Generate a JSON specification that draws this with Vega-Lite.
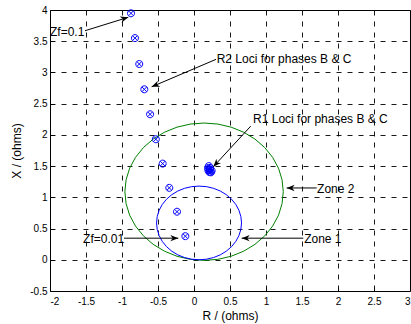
{
  "$schema": "https://vega.github.io/schema/vega-lite/v6.json",
  "width": 360,
  "height": 281,
  "autosize": {"type": "none"},
  "padding": {"left": 50, "top": 10, "right": 1, "bottom": 33},
  "config": {
    "font": "Liberation Sans",
    "view": {"stroke": "#000", "strokeWidth": 1},
    "axis": {
      "domain": false,
      "grid": true,
      "gridColor": "#000",
      "gridDash": [5, 6],
      "gridWidth": 0.9,
      "gridOpacity": 1,
      "ticks": true,
      "tickSize": -4,
      "tickColor": "#000",
      "tickCount": 20,
      "labelOverlap": false,
      "labelFontSize": 10,
      "labelColor": "#000",
      "titleFontSize": 12,
      "titleFontWeight": "normal",
      "titleColor": "#000",
      "labelFont": "Liberation Sans",
      "titleFont": "Liberation Sans"
    }
  },
  "datasets": {
    "circles": [
      {"zone": "Zone 2", "i": 0, "R": 1.24, "X": 1.09},
      {"zone": "Zone 2", "i": 1, "R": 1.2233, "X": 1.281},
      {"zone": "Zone 2", "i": 2, "R": 1.1737, "X": 1.4662},
      {"zone": "Zone 2", "i": 3, "R": 1.0926, "X": 1.64},
      {"zone": "Zone 2", "i": 4, "R": 0.9826, "X": 1.7971},
      {"zone": "Zone 2", "i": 5, "R": 0.8471, "X": 1.9326},
      {"zone": "Zone 2", "i": 6, "R": 0.69, "X": 2.0426},
      {"zone": "Zone 2", "i": 7, "R": 0.5162, "X": 2.1237},
      {"zone": "Zone 2", "i": 8, "R": 0.331, "X": 2.1733},
      {"zone": "Zone 2", "i": 9, "R": 0.14, "X": 2.19},
      {"zone": "Zone 2", "i": 10, "R": -0.051, "X": 2.1733},
      {"zone": "Zone 2", "i": 11, "R": -0.2362, "X": 2.1237},
      {"zone": "Zone 2", "i": 12, "R": -0.41, "X": 2.0426},
      {"zone": "Zone 2", "i": 13, "R": -0.5671, "X": 1.9326},
      {"zone": "Zone 2", "i": 14, "R": -0.7026, "X": 1.7971},
      {"zone": "Zone 2", "i": 15, "R": -0.8126, "X": 1.64},
      {"zone": "Zone 2", "i": 16, "R": -0.8937, "X": 1.4662},
      {"zone": "Zone 2", "i": 17, "R": -0.9433, "X": 1.281},
      {"zone": "Zone 2", "i": 18, "R": -0.96, "X": 1.09},
      {"zone": "Zone 2", "i": 19, "R": -0.9433, "X": 0.899},
      {"zone": "Zone 2", "i": 20, "R": -0.8937, "X": 0.7138},
      {"zone": "Zone 2", "i": 21, "R": -0.8126, "X": 0.54},
      {"zone": "Zone 2", "i": 22, "R": -0.7026, "X": 0.3829},
      {"zone": "Zone 2", "i": 23, "R": -0.5671, "X": 0.2474},
      {"zone": "Zone 2", "i": 24, "R": -0.41, "X": 0.1374},
      {"zone": "Zone 2", "i": 25, "R": -0.2362, "X": 0.0563},
      {"zone": "Zone 2", "i": 26, "R": -0.051, "X": 0.0067},
      {"zone": "Zone 2", "i": 27, "R": 0.14, "X": -0.01},
      {"zone": "Zone 2", "i": 28, "R": 0.331, "X": 0.0067},
      {"zone": "Zone 2", "i": 29, "R": 0.5162, "X": 0.0563},
      {"zone": "Zone 2", "i": 30, "R": 0.69, "X": 0.1374},
      {"zone": "Zone 2", "i": 31, "R": 0.8471, "X": 0.2474},
      {"zone": "Zone 2", "i": 32, "R": 0.9826, "X": 0.3829},
      {"zone": "Zone 2", "i": 33, "R": 1.0926, "X": 0.54},
      {"zone": "Zone 2", "i": 34, "R": 1.1737, "X": 0.7138},
      {"zone": "Zone 2", "i": 35, "R": 1.2233, "X": 0.899},
      {"zone": "Zone 2", "i": 36, "R": 1.24, "X": 1.09},
      {"zone": "Zone 1", "i": 0, "R": 0.66, "X": 0.59},
      {"zone": "Zone 1", "i": 1, "R": 0.651, "X": 0.6925},
      {"zone": "Zone 1", "i": 2, "R": 0.6244, "X": 0.7918},
      {"zone": "Zone 1", "i": 3, "R": 0.581, "X": 0.885},
      {"zone": "Zone 1", "i": 4, "R": 0.522, "X": 0.9692},
      {"zone": "Zone 1", "i": 5, "R": 0.4492, "X": 1.042},
      {"zone": "Zone 1", "i": 6, "R": 0.365, "X": 1.101},
      {"zone": "Zone 1", "i": 7, "R": 0.2718, "X": 1.1444},
      {"zone": "Zone 1", "i": 8, "R": 0.1725, "X": 1.171},
      {"zone": "Zone 1", "i": 9, "R": 0.07, "X": 1.18},
      {"zone": "Zone 1", "i": 10, "R": -0.0325, "X": 1.171},
      {"zone": "Zone 1", "i": 11, "R": -0.1318, "X": 1.1444},
      {"zone": "Zone 1", "i": 12, "R": -0.225, "X": 1.101},
      {"zone": "Zone 1", "i": 13, "R": -0.3092, "X": 1.042},
      {"zone": "Zone 1", "i": 14, "R": -0.382, "X": 0.9692},
      {"zone": "Zone 1", "i": 15, "R": -0.441, "X": 0.885},
      {"zone": "Zone 1", "i": 16, "R": -0.4844, "X": 0.7918},
      {"zone": "Zone 1", "i": 17, "R": -0.511, "X": 0.6925},
      {"zone": "Zone 1", "i": 18, "R": -0.52, "X": 0.59},
      {"zone": "Zone 1", "i": 19, "R": -0.511, "X": 0.4875},
      {"zone": "Zone 1", "i": 20, "R": -0.4844, "X": 0.3882},
      {"zone": "Zone 1", "i": 21, "R": -0.441, "X": 0.295},
      {"zone": "Zone 1", "i": 22, "R": -0.382, "X": 0.2108},
      {"zone": "Zone 1", "i": 23, "R": -0.3092, "X": 0.138},
      {"zone": "Zone 1", "i": 24, "R": -0.225, "X": 0.079},
      {"zone": "Zone 1", "i": 25, "R": -0.1318, "X": 0.0356},
      {"zone": "Zone 1", "i": 26, "R": -0.0325, "X": 0.009},
      {"zone": "Zone 1", "i": 27, "R": 0.07, "X": 0},
      {"zone": "Zone 1", "i": 28, "R": 0.1725, "X": 0.009},
      {"zone": "Zone 1", "i": 29, "R": 0.2718, "X": 0.0356},
      {"zone": "Zone 1", "i": 30, "R": 0.365, "X": 0.079},
      {"zone": "Zone 1", "i": 31, "R": 0.4492, "X": 0.138},
      {"zone": "Zone 1", "i": 32, "R": 0.522, "X": 0.2108},
      {"zone": "Zone 1", "i": 33, "R": 0.581, "X": 0.295},
      {"zone": "Zone 1", "i": 34, "R": 0.6244, "X": 0.3882},
      {"zone": "Zone 1", "i": 35, "R": 0.651, "X": 0.4875},
      {"zone": "Zone 1", "i": 36, "R": 0.66, "X": 0.59}
    ],
    "loci": [
      {"series": "R2", "R": -0.875, "X": 3.947},
      {"series": "R2", "R": -0.82, "X": 3.55},
      {"series": "R2", "R": -0.76, "X": 3.135},
      {"series": "R2", "R": -0.69, "X": 2.73},
      {"series": "R2", "R": -0.61, "X": 2.33},
      {"series": "R2", "R": -0.53, "X": 1.93},
      {"series": "R2", "R": -0.435, "X": 1.54},
      {"series": "R2", "R": -0.343, "X": 1.152},
      {"series": "R2", "R": -0.236, "X": 0.77},
      {"series": "R2", "R": -0.12, "X": 0.378},
      {"series": "R1", "R": 0.205, "X": 1.5},
      {"series": "R1", "R": 0.195, "X": 1.465},
      {"series": "R1", "R": 0.2, "X": 1.43},
      {"series": "R1", "R": 0.215, "X": 1.405},
      {"series": "R1", "R": 0.235, "X": 1.4},
      {"series": "R1", "R": 0.245, "X": 1.425},
      {"series": "R1", "R": 0.225, "X": 1.47},
      {"series": "R1", "R": 0.22, "X": 1.44}
    ],
    "arrows": [
      {"a": "Zf=0.1", "x": -1.514, "y": 3.668, "x2": -0.9125, "y2": 3.883, "ang": -17},
      {"a": "R2", "x": 0.306, "y": 3.21, "x2": -0.588, "y2": 2.77, "ang": 157},
      {"a": "R1", "x": 0.788, "y": 2.14, "x2": 0.268, "y2": 1.49, "ang": 133},
      {"a": "Zone 2", "x": 1.704, "y": 1.15, "x2": 1.287, "y2": 1.15, "ang": 180},
      {"a": "Zone 1", "x": 1.518, "y": 0.346, "x2": 0.662, "y2": 0.346, "ang": 180},
      {"a": "Zf=0.01", "x": -0.972, "y": 0.346, "x2": -0.218, "y2": 0.346, "ang": 0}
    ],
    "labels": [
      {"t": "Zf=0.1", "x": -2.0, "y": 3.65},
      {"t": "R2 Loci for phases B & C", "x": 0.315, "y": 3.215},
      {"t": "R1 Loci for phases B & C", "x": 0.82, "y": 2.25},
      {"t": "Zone 2", "x": 1.71, "y": 1.13},
      {"t": "Zone 1", "x": 1.53, "y": 0.33},
      {"t": "Zf=0.01", "x": -1.54, "y": 0.33}
    ]
  },
  "layer": [
    {
      "data": {"name": "circles"},
      "mark": {"type": "line", "strokeWidth": 1},
      "encoding": {
        "x": {
          "field": "R", "type": "quantitative",
          "scale": {"domain": [-2, 3], "nice": false, "zero": false},
          "axis": {
            "title": "R / (ohms)",
            "values": [-2, -1.5, -1, -0.5, 0, 0.5, 1, 1.5, 2, 2.5, 3],
            "tickCount": 20,
            "labelExpr": "'' + datum.value",
            "labelPadding": 9,
            "titlePadding": 4
          }
        },
        "y": {
          "field": "X", "type": "quantitative",
          "scale": {"domain": [-0.5, 4], "nice": false, "zero": false},
          "axis": {
            "title": "X / (ohms)",
            "values": [-0.5, 0, 0.5, 1, 1.5, 2, 2.5, 3, 3.5, 4],
            "tickCount": 20,
            "labelExpr": "'' + datum.value",
            "labelPadding": 7,
            "titlePadding": 6
          }
        },
        "color": {
          "field": "zone", "type": "nominal",
          "scale": {"domain": ["Zone 1", "Zone 2"], "range": ["#0000ff", "#008000"]},
          "legend": null
        },
        "order": {"field": "i", "type": "quantitative"}
      }
    },
    {
      "data": {"name": "loci"},
      "mark": {
        "type": "point",
        "shape": "M-1,0A1,1,0,1,1,1,0A1,1,0,1,1,-1,0M-0.7,-0.7L0.7,0.7M-0.7,0.7L0.7,-0.7",
        "filled": false,
        "size": 49,
        "stroke": "#0000ff",
        "strokeWidth": 1,
        "opacity": 1
      },
      "encoding": {
        "x": {"field": "R", "type": "quantitative"},
        "y": {"field": "X", "type": "quantitative"}
      }
    },
    {
      "data": {"name": "arrows"},
      "mark": {"type": "rule", "color": "#000", "strokeWidth": 1},
      "encoding": {
        "x": {"field": "x", "type": "quantitative"},
        "y": {"field": "y", "type": "quantitative"},
        "x2": {"field": "x2"},
        "y2": {"field": "y2"}
      }
    },
    {
      "data": {"name": "arrows"},
      "mark": {
        "type": "point",
        "shape": "M0,0L-1,-0.4L-0.7,0L-1,0.4Z",
        "filled": true,
        "size": 256,
        "color": "#000",
        "opacity": 1
      },
      "encoding": {
        "x": {"field": "x2", "type": "quantitative"},
        "y": {"field": "y2", "type": "quantitative"},
        "angle": {"field": "ang", "type": "quantitative", "scale": null}
      }
    },
    {
      "data": {"name": "labels"},
      "mark": {"type": "text", "align": "left", "baseline": "middle", "fontSize": 12, "color": "#000", "font": "Liberation Sans"},
      "encoding": {
        "x": {"field": "x", "type": "quantitative"},
        "y": {"field": "y", "type": "quantitative"},
        "text": {"field": "t"}
      }
    }
  ]
}
